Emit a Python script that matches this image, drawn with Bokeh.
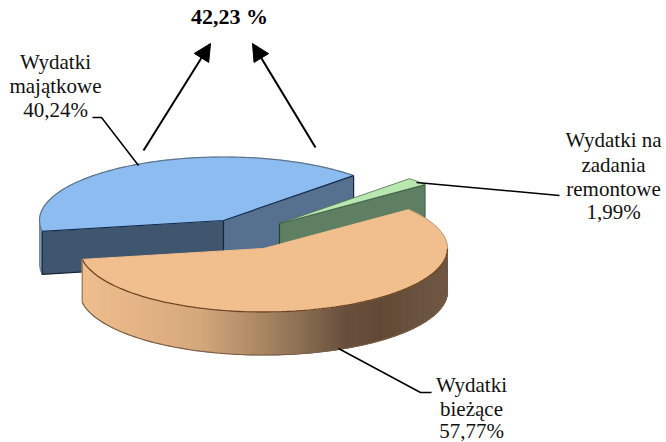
import numpy as np
from bokeh.plotting import figure
from bokeh.models import Arrow, NormalHead
from bokeh.core.properties import value
from bokeh.embed import file_html
from bokeh.resources import INLINE

# data
names = ["Wydatki majątkowe", "Wydatki na zadania remontowe", "Wydatki bieżące"]
shares = [40.24, 1.99, 57.77]
total_label = "42,23 %"
labels = [["Wydatki", "majątkowe", "40,24%"],
          ["Wydatki na", "zadania", "remontowe", "1,99%"],
          ["Wydatki", "bieżące", "57,77%"]]

# projection of the pie
RX, RY, DEPTH = 184, 63.5, 43
START = 45.0
blue_c, green_c, orange_c = (223, 220), (279, 223), (263, 248)

W, H = 666, 442
p = figure(width=W, height=H, output_backend="svg", toolbar_location=None,
           x_range=(0, W), y_range=(H, 0), min_border=0,
           background_fill_color="white", border_fill_color="white")
p.axis.visible = False
p.grid.visible = False
p.outline_line_color = None


def arc(c, t0, t1, n=120, dy=0):
    t = np.radians(np.linspace(t0, t1, n))
    return c[0] + RX * np.cos(t), c[1] - RY * np.sin(t) + dy


def poly(xs, ys, fill, line=None, width=1.0):
    p.patch(list(xs), list(ys), fill_color=fill, line_color=line or fill,
            line_width=width, line_join="round")


def apex_wall(c, t, fill, line):
    x, y = arc(c, t, t, 1)
    poly([c[0], x[0], x[0], c[0]], [c[1], y[0], y[0] + DEPTH, c[1] + DEPTH], fill, line, 1.2)


blue_sweep = shares[0] * 3.6
green_sweep = shares[1] * 3.6
blue_end = START + blue_sweep
green_end = START - green_sweep
orange_end = green_end - shares[2] * 3.6

# blue slice
ax, ay = arc(blue_c, 178, blue_end, 20)
bx, by = arc(blue_c, blue_end, 178, 20, DEPTH)
poly(np.r_[ax, bx], np.r_[ay, by], "#7f9fc0", "#4f6a85", 0.8)
apex_wall(blue_c, blue_end, "#40566f", "#16263c")
apex_wall(blue_c, START, "#55718f", "#16263c")
x, y = arc(blue_c, START, blue_end)
poly(np.r_[blue_c[0], x], np.r_[blue_c[1], y], "#8dbdf0")
p.line(x, y, line_color="#5f7488", line_width=1.2)
x0, y0 = arc(blue_c, START, START, 1)
x1, y1 = arc(blue_c, blue_end, blue_end, 1)
p.line([x0[0], blue_c[0], x1[0]], [y0[0], blue_c[1], y1[0]], line_color="#142b4a", line_width=1.2)

# green slice
apex_wall(green_c, green_end, "#5f7f62", "#24402c")
x, y = arc(green_c, green_end, START, 12)
poly(np.r_[green_c[0], x], np.r_[green_c[1], y], "#b8e8b0", "#4f6f50", 0.8)
x0, y0 = arc(green_c, green_end, green_end, 1)
p.line([x0[0], x0[0]], [y0[0], y0[0] + DEPTH], line_color="#5f7f62", line_width=1)

# orange slice: shaded outer wall built as narrow strips
shade_x = [83, 150, 200, 250, 300, 345, 385, 420, 447]
shade_r = [238, 226, 212, 178, 140, 104, 98, 106, 112]
shade_g = [190, 178, 168, 142, 112, 80, 74, 84, 88]
shade_b = [142, 132, 124, 104, 84, 60, 54, 64, 68]
angles = np.arange(orange_end, 0.5, 1.0)
xs, ys, cols = [], [], []
for a0, a1 in zip(angles[:-1], angles[1:]):
    xa, ya = arc(orange_c, a0, a1, 2)
    mx = xa.mean()
    r = int(np.interp(mx, shade_x, shade_r))
    g = int(np.interp(mx, shade_x, shade_g))
    b = int(np.interp(mx, shade_x, shade_b))
    xs.append([xa[0], xa[1], xa[1], xa[0]])
    ys.append([ya[0], ya[1], ya[1] + DEPTH, ya[0] + DEPTH])
    cols.append(f"#{r:02x}{g:02x}{b:02x}")
p.patches(xs, ys, fill_color=cols, line_color=cols, line_width=1)
x, y = arc(orange_c, orange_end, 0, 120, DEPTH)
p.line(x, y, line_color="#7a5f48", line_width=1.2)
x, y = arc(orange_c, orange_end, green_end)
poly(np.r_[orange_c[0], x], np.r_[orange_c[1], y], "#f1be8e")
x, y = arc(orange_c, orange_end, 0)
p.line(x, y, line_color="#6b4423", line_width=1.3)
x, y = arc(orange_c, 0, green_end, 30)
p.line(x, y, line_color="#a88a6c", line_width=0.8)
x0, y0 = arc(orange_c, orange_end, orange_end, 1)
p.line([x0[0], x0[0]], [y0[0], y0[0] + DEPTH], line_color="#8c6a48", line_width=1)

# leaders
leaders = [([92, 101, 138], [117, 117, 165]),
           ([416, 559], [182, 195]),
           ([338, 420, 431], [348, 392, 392])]
for lx, ly in leaders:
    p.line(lx, ly, line_color="black", line_width=1.5)

# arrows to the summed share
for (x_s, y_s, x_e, y_e) in [(143, 150, 210, 43), (315, 147, 252, 43)]:
    p.add_layout(Arrow(x_start=x_s, y_start=y_s, x_end=x_e, y_end=y_e, line_color="black", line_width=2,
                       end=NormalHead(size=17, fill_color="black", line_color="black", line_width=1)))

# texts
label_pos = [(55, [69, 93, 117]), (613, [147, 172, 196, 219]), (471, [392, 416, 438])]
for lines, (cx, bases) in zip(labels, label_pos):
    p.text([cx] * len(lines), bases, text=lines, text_font=value("Liberation Serif"), y_offset=-8,
           text_font_size="21px", text_color="#111111", text_align="center", text_baseline="alphabetic")
p.text([229], [24], text=[total_label], text_font=value("Liberation Serif"), text_font_size="22px", y_offset=-8,
       text_font_style="bold", text_color="black", text_align="center", text_baseline="alphabetic")

open("out.html", "w").write(file_html(p, INLINE))
